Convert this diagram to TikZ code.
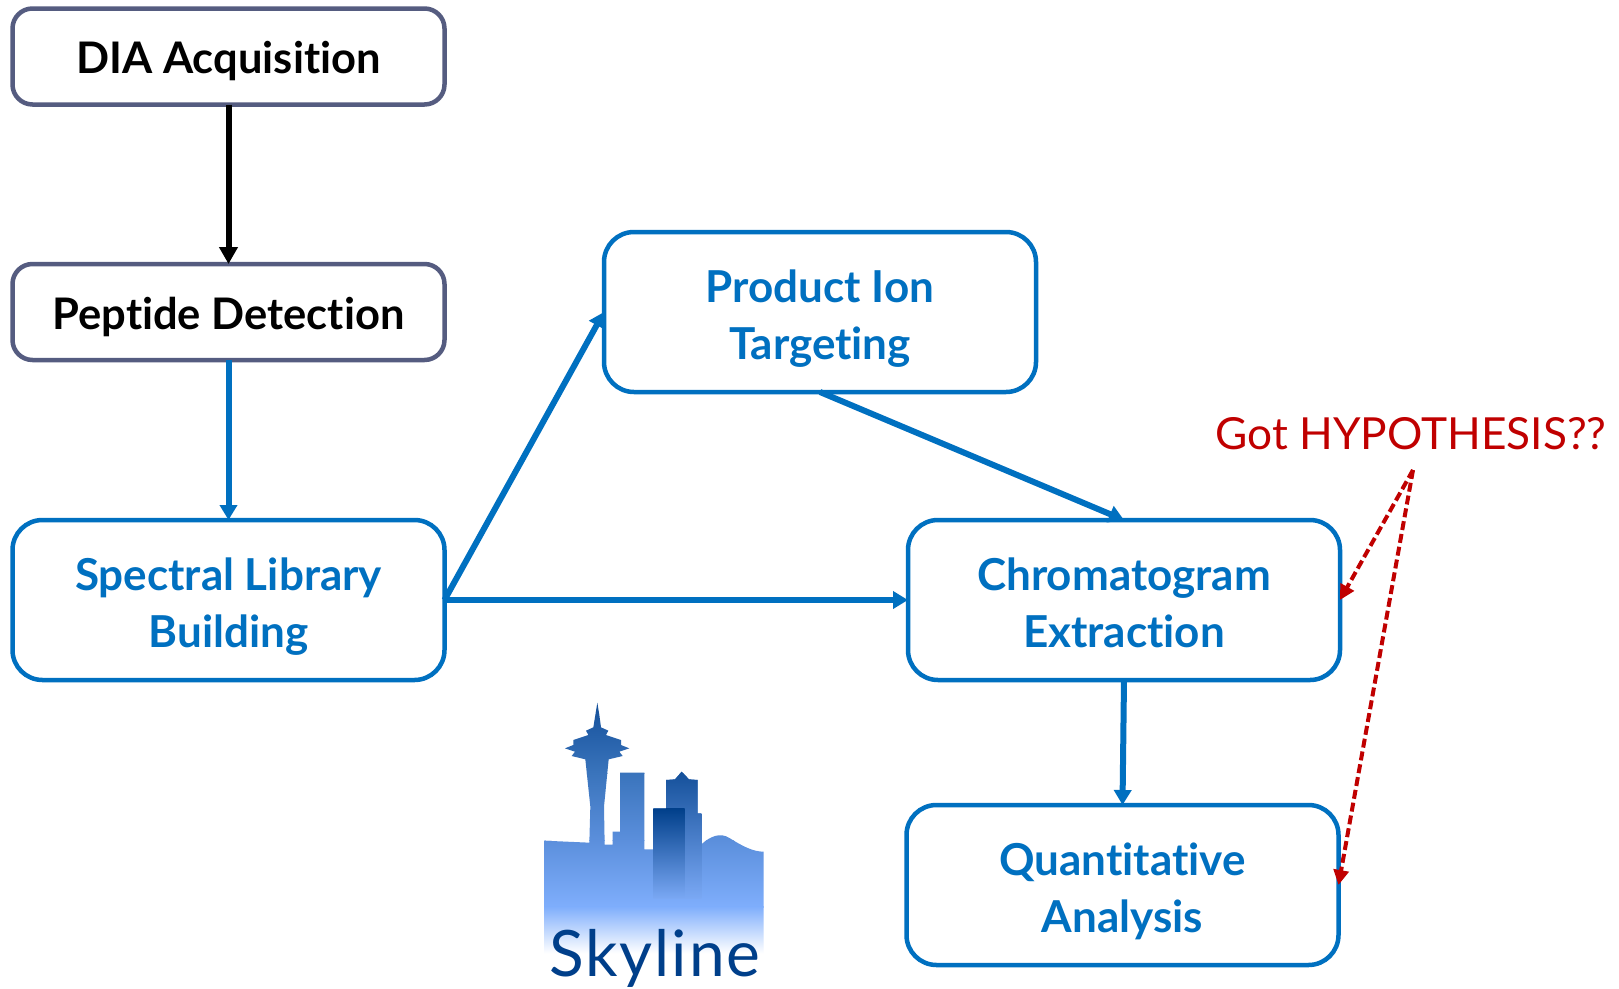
\documentclass[tikz,border=0pt]{standalone}
\usepackage{fontspec}
\setmainfont{Lato}[Ligatures=NoCommon,Contextuals=NoAlternate]
\usetikzlibrary{arrows.meta}
\definecolor{bluex}{HTML}{0070C0}
\definecolor{slatex}{HTML}{555C80}
\definecolor{redx}{HTML}{C00000}
\definecolor{navyx}{HTML}{003F8A}
\definecolor{skya}{HTML}{14509A}
\definecolor{skyb}{HTML}{3A74BC}
\definecolor{skyc}{HTML}{5B8FDC}
\definecolor{skyd}{HTML}{7FAEFC}
\definecolor{skye}{HTML}{7AA8F4}
\tikzset{
 grayboxs/.style={draw=slatex,line width=4.5pt,rounded corners=20pt,fill=white,inner sep=0pt,outer sep=0pt,minimum width=432pt,minimum height=96pt,text=black,font=\fontsize{43.5}{57}\selectfont\bfseries,align=center,text height=34pt,text depth=0pt},
 blueboxs/.style={draw=bluex,line width=4.5pt,rounded corners=30pt,fill=white,inner sep=0pt,outer sep=0pt,minimum width=432pt,minimum height=160pt,text=bluex,font=\fontsize{44}{57}\selectfont\bfseries,align=center,text height=94pt,text depth=0pt},
 blackarrow/.style={draw=black,line width=6pt,-{Triangle[length=17pt,width=18pt]}},
 bluearrow/.style={draw=bluex,line width=6pt,-{Triangle[length=15pt,width=17pt]}},
 redarrow/.style={draw=redx,line width=4pt,dash pattern=on 9pt off 4pt,-{Triangle[length=15pt,width=15pt]}}
}
\begin{document}
\begin{tikzpicture}[x=1pt,y=-1pt]
\useasboundingbox (0,0) rectangle (1619,988);
\fill[white] (0,0) rectangle (1619,988);
\node[grayboxs] (dia) at (228.5,56.5) {DIA Acquisition};
\node[grayboxs] (pep) at (228.5,312) {Peptide Detection};
\node[blueboxs] (spec) at (228.5,600) {Spectral Library\\Building};
\node[blueboxs] (prod) at (820,312) {Product Ion\\Targeting};
\node[blueboxs] (chrom) at (1124,600) {Chromatogram\\Extraction};
\node[blueboxs] (quant) at (1122.5,885) {Quantitative\\Analysis};
\node[text=redx,font=\fontsize{44.2}{46}\selectfont,anchor=base] (hyp) at (1411,449) {Got HYPOTHESIS??};
\coordinate (redstart) at (1413,470);
\draw[blackarrow] (dia) -- (pep);
\draw[bluearrow] (pep) -- (spec);
\draw[bluearrow] (spec.east) -- (prod.west);
\draw[bluearrow] (spec.east) -- (chrom.west);
\draw[bluearrow] (prod.south) -- (chrom.north);
\draw[bluearrow] (chrom.south) -- (quant.north);
\draw[redarrow] (redstart) -- (chrom.east);
\draw[redarrow] (redstart) -- (quant.east);
\begin{scope}[shift={(520,690)},x=0.33333pt,y=-0.33333pt]
\begin{scope}
\clip (73,452) -- (208,458) -- (211,350) -- (196,208) -- (155,198) -- (165,185) -- (135,175) -- (160,165) -- (160,150) -- (205,135) -- (198,122) -- (220,112) -- (226,75) -- (232,38) -- (238,75) -- (243,112) -- (265,122) -- (258,135) -- (303,150) -- (303,165) -- (328,175) -- (298,185) -- (308,198) -- (266,208) -- (252,350) -- (254,464) -- (278,464) -- (278,425) -- (300,425) -- (300,248) -- (373,248) -- (373,478) -- (400,478) -- (400,355) -- (438,355) -- (438,270) -- (465,268) -- (485,245) -- (507,268) -- (533,270) -- (533,370) -- (544,370) -- (544,463) .. controls (570,440) and (600,425) .. (630,445) .. controls (670,470) and (700,485) .. (731,485) -- (731,790) -- (73,790) -- cycle;
\shade[top color=skya,bottom color=skyb] (60,38) rectangle (740,251);
\shade[top color=skyb,bottom color=skyc] (60,250) rectangle (740,451);
\shade[top color=skyc,bottom color=skyd] (60,450) rectangle (740,651);
\shade[top color=skyd,bottom color=white] (60,650) rectangle (740,790);
\shade[top color=skya,bottom color=skye] (438,245) rectangle (544,625);
\shade[top color=navyx,bottom color=skye] (400,355) rectangle (494,625);
\end{scope}
\end{scope}
\node[text=navyx,font=\fontsize{64}{67}\selectfont\addfontfeature{LetterSpace=3},anchor=base] (sky) at (655,976) {Skyline};
\end{tikzpicture}
\end{document}
